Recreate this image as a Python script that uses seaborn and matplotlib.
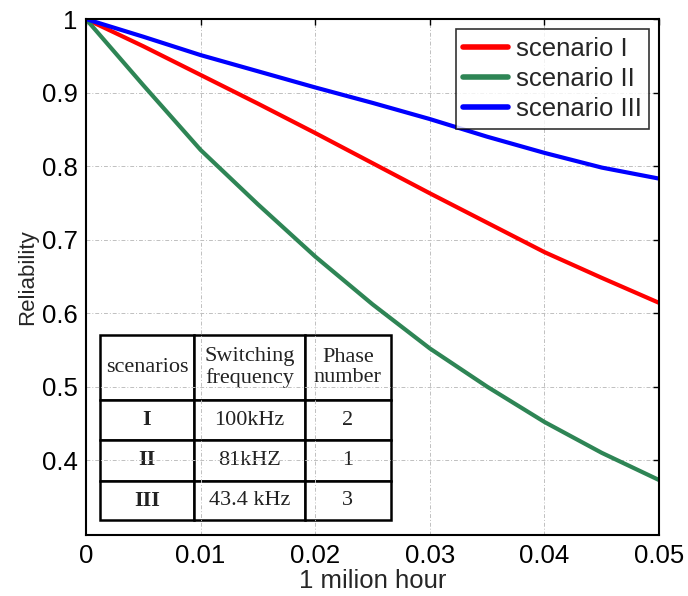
import numpy as np
import pandas as pd
import matplotlib
matplotlib.use("Agg")
import matplotlib.pyplot as plt
import seaborn as sns

# valores
hours = [0, 0.005, 0.01, 0.015, 0.02, 0.025, 0.03, 0.035, 0.04, 0.045, 0.05]
rel_s1 = [1, 0.963, 0.924, 0.885, 0.845, 0.804, 0.763, 0.723, 0.683, 0.648, 0.614]
rel_s2 = [1, 0.910, 0.822, 0.748, 0.677, 0.612, 0.552, 0.500, 0.452, 0.410, 0.373]
rel_s3 = [1, 0.976, 0.951, 0.929, 0.907, 0.886, 0.864, 0.840, 0.818, 0.798, 0.783]
scenario_names = ['scenario I', 'scenario II', 'scenario III']

table_header = ['scenarios', 'Switching\nfrequency', 'Phase\nnumber']
table_rows = [['I', '100kHz', '2'],
              ['II', '81kHZ', '1'],
              ['III', '43.4 kHz', '3']]

xticks = [0, 0.01, 0.02, 0.03, 0.04, 0.05]
xtick_labels = ['0', '0.01', '0.02', '0.03', '0.04', '0.05']
yticks = [0.4, 0.5, 0.6, 0.7, 0.8, 0.9, 1.0]
ytick_labels = ['0.4', '0.5', '0.6', '0.7', '0.8', '0.9', '1']

df = pd.DataFrame({
    'hour': hours * 3,
    'Reliability': rel_s1 + rel_s2 + rel_s3,
    'scenario': sum([[n] * len(hours) for n in scenario_names], []),
})

sns.set_style('white')
plt.rcParams['font.family'] = ['Liberation Sans', 'DejaVu Sans']

fig = plt.figure(figsize=(6.88, 5.96), dpi=100)
ax = fig.add_axes([0.125, 0.102, 0.833, 0.866])

palette = {'scenario I': '#ff0000', 'scenario II': '#2e8555', 'scenario III': '#0000ff'}
sns.lineplot(data=df, x='hour', y='Reliability', hue='scenario', palette=palette,
             linewidth=3, ax=ax)

ax.set_xlim(0, 0.05)
ax.set_ylim(0.298, 1.0)
ax.set_xticks(xticks)
ax.set_xticklabels(xtick_labels)
ax.set_yticks(yticks)
ax.set_yticklabels(ytick_labels)
ax.tick_params(direction='in', length=4, width=1, labelsize=18.5, pad=6,
               top=True, right=True, colors='black')
ax.grid(True, color='#c0c0c0', linestyle=(0, (4, 2, 1, 2)), linewidth=0.7)
for s in ax.spines.values():
    s.set_linewidth(1.5)
    s.set_color('black')

ax.set_xlabel('1 milion hour', fontsize=18.5, labelpad=1)
ax.set_ylabel('Reliability', fontsize=16, labelpad=3)

leg = ax.legend(loc='upper right', fontsize=18.5, frameon=True, fancybox=False,
                edgecolor='black', handlelength=1.75, handletextpad=0.3,
                borderpad=0.28, labelspacing=0.25, borderaxespad=0.4)
leg.get_frame().set_linewidth(1.2)
for line in leg.get_lines():
    line.set_linewidth(4)

# tabla dentro del grafico
tab = ax.table(cellText=table_rows, colLabels=table_header, cellLoc='center',
               colWidths=[0.324, 0.380, 0.296],
               bbox=[0.024, 0.029, 0.508, 0.359])
tab.auto_set_font_size(False)
row_h = [65, 40, 40.7, 39.3]
for (r, c), cell in tab.get_celld().items():
    cell.set_height(row_h[r])
    cell.set_linewidth(1.8)
    cell.set_edgecolor('black')
    cell.set_facecolor('white')
    txt = cell.get_text()
    txt.set_fontfamily('Liberation Serif')
    txt.set_fontsize(16)
    txt.set_linespacing(1.1)
    txt.set_color('#222222')
    if r > 0 and c == 0:
        txt.set_fontweight('bold')

fig.savefig('out.png', dpi=100)
